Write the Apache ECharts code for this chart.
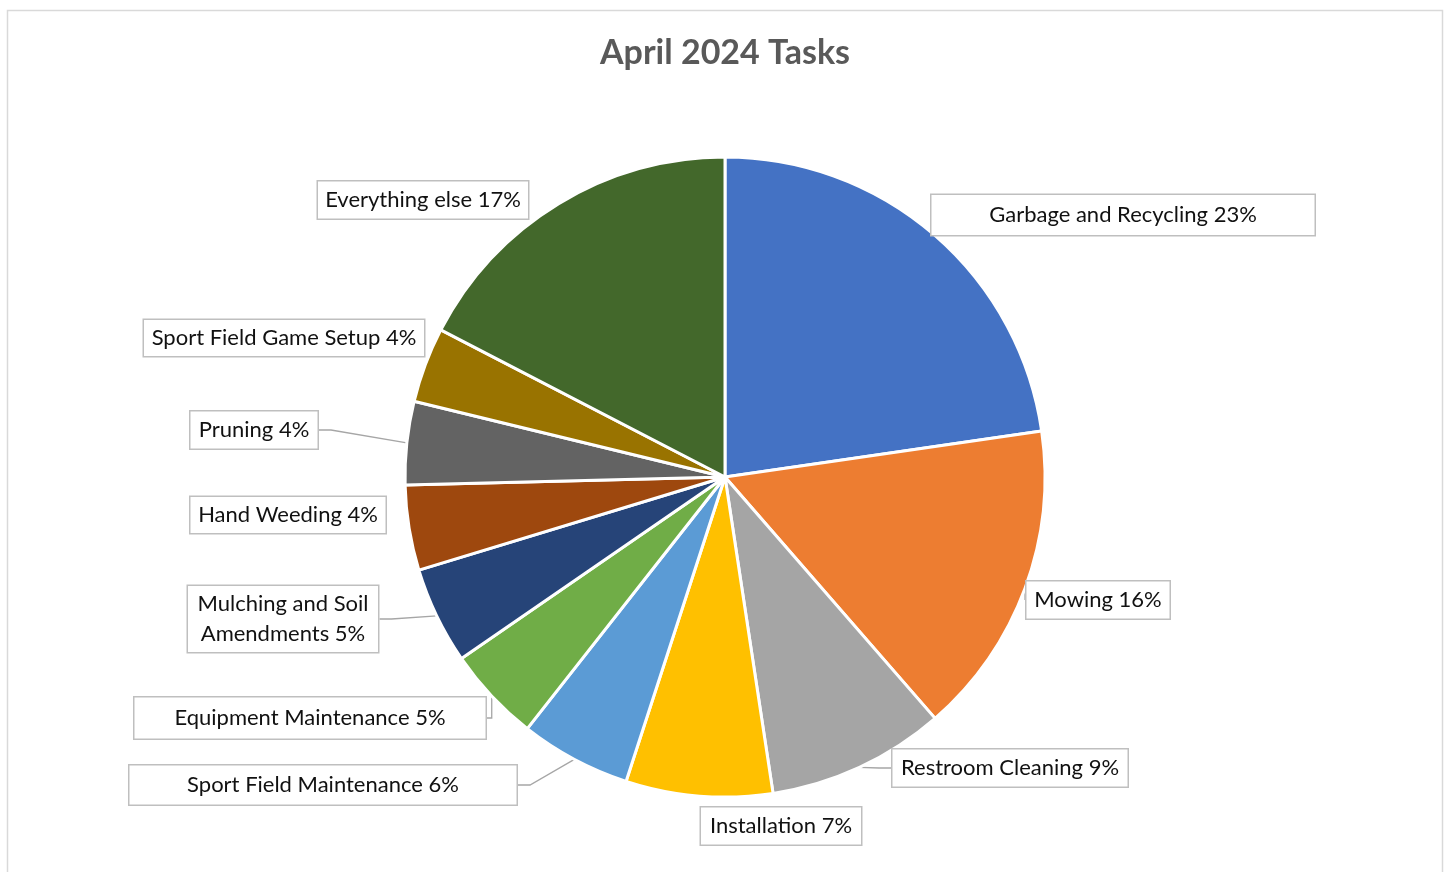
<!DOCTYPE html>
<html>
<head>
<meta charset="utf-8">
<script src="https://cdn.jsdelivr.net/npm/echarts@6/dist/echarts.min.js"></script>
<style>
html,body{margin:0;padding:0;background:#fff;}
#chart{width:1450px;height:872px;}
</style>
</head>
<body>
<div id="chart"></div>
<script>
// ---- Data ----
const categories = [
  "Garbage and Recycling", "Mowing", "Restroom Cleaning", "Installation",
  "Sport Field Maintenance", "Equipment Maintenance", "Mulching and Soil Amendments",
  "Hand Weeding", "Pruning", "Sport Field Game Setup", "Everything else"
];
const shares = [22.7, 15.9, 9.0, 7.4, 5.6, 4.8, 4.9, 4.3, 4.2, 3.8, 17.4];
const labelTexts = [
  "Garbage and Recycling 23%", "Mowing 16%", "Restroom Cleaning 9%", "Installation 7%",
  "Sport Field Maintenance 6%", "Equipment Maintenance 5%", "Mulching and Soil\nAmendments 5%",
  "Hand Weeding 4%", "Pruning 4%", "Sport Field Game Setup 4%", "Everything else 17%"
];

// ---- Styles / layout ----
const colors = ["#4472C4", "#ED7D31", "#A5A5A5", "#FFC000", "#5B9BD5", "#70AD47",
                "#264478", "#9E480E", "#636363", "#997300", "#43682B"];
// label box: centre x, centre y, width, height, show leader line
const labelBoxes = [
  [1123, 215, 383, 40, false],
  [1098, 600, 143, 37, true],
  [1010, 768, 235, 37, true],
  [781, 826, 160, 37, false],
  [323, 785, 387, 39, true],
  [310, 718, 351, 41, true],
  [283, 619, 190, 66, true],
  [288, 515, 195, 36, false],
  [254, 430, 127, 37, true],
  [284, 338, 280, 36, false],
  [423, 200, 210, 37, false]
];

const chart = echarts.init(document.getElementById('chart'), null, {renderer: 'canvas'});

const seriesData = categories.map((name, i) => ({
  name: name,
  value: shares[i],
  itemStyle: {color: colors[i]},
  label: {
    formatter: labelTexts[i],
    width: labelBoxes[i][2],
    height: labelBoxes[i][3]
  },
  labelLine: {show: labelBoxes[i][4]}
}));

chart.setOption({
  animation: false,
  backgroundColor: '#ffffff',
  title: {
    text: 'April 2024 Tasks',
    left: 'center',
    top: 31,
    textStyle: {fontFamily: 'Lato', fontSize: 34, fontWeight: 'bold', color: '#595959'}
  },
  graphic: [{
    type: 'rect',
    shape: {x: 7.5, y: 10.5, width: 1435, height: 880},
    style: {fill: 'none', stroke: '#d9d9d9', lineWidth: 1.5},
    silent: true
  }],
  series: [{
    type: 'pie',
    center: [725, 477],
    radius: [0, 320],
    startAngle: 90,
    clockwise: true,
    avoidLabelOverlap: false,
    itemStyle: {borderColor: '#ffffff', borderWidth: 3},
    label: {
      show: true,
      position: 'outside',
      fontFamily: 'Lato',
      fontSize: 22,
      color: '#111111',
      backgroundColor: '#ffffff',
      borderColor: '#bfbfbf',
      borderWidth: 1.5,
      padding: 0,
      lineHeight: 30,
      align: 'center',
      verticalAlign: 'middle',
      overflow: 'none'
    },
    labelLine: {
      show: true,
      length: 10,
      length2: 12,
      smooth: false,
      lineStyle: {color: '#a6a6a6', width: 1.3}
    },
    labelLayout: function (params) {
      const b = labelBoxes[params.dataIndex];
      return {x: b[0], y: b[1], align: 'center', verticalAlign: 'middle'};
    },
    data: seriesData
  }]
});
</script>
</body>
</html>
